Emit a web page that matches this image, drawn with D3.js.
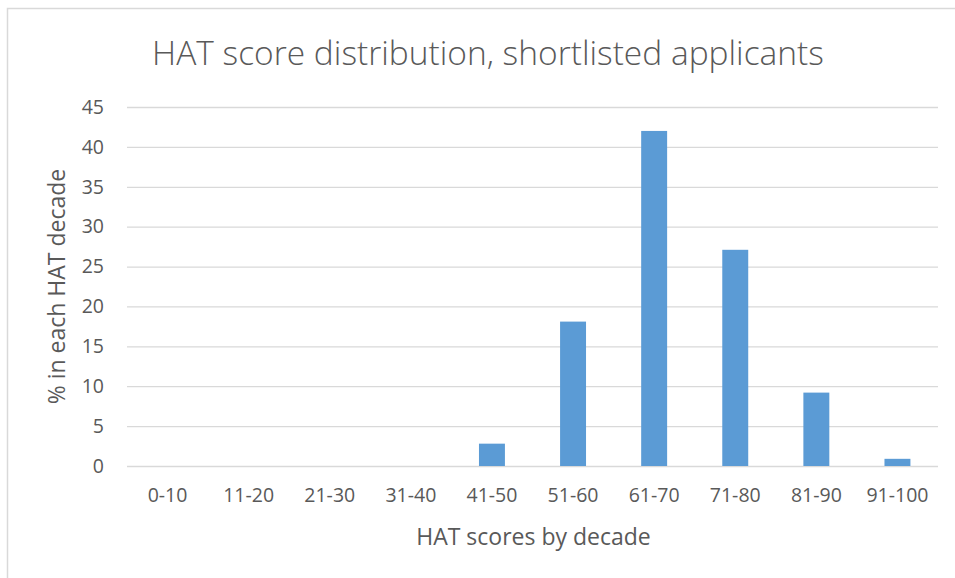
<!DOCTYPE html>
<html>
<head>
<meta charset="utf-8">
<script src="https://cdn.jsdelivr.net/npm/d3@7"></script>
<style>
  body { margin: 0; background: #fff; }
  text { font-family: "Open Sans", "Noto Sans", sans-serif; fill: #595959; }
</style>
</head>
<body>
<svg id="chart"></svg>
<script>
// data
const decades = ["0-10", "11-20", "21-30", "31-40", "41-50", "51-60", "61-70", "71-80", "81-90", "91-100"];
const percents = [0, 0, 0, 0, 2.8, 18.1, 42, 27.1, 9.2, 0.9];
const yTicks = [0, 5, 10, 15, 20, 25, 30, 35, 40, 45];

const width = 955, height = 578;
const margin = {top: 107, right: 17, bottom: 112, left: 127};
const plotW = width - margin.left - margin.right;
const plotH = height - margin.top - margin.bottom;

let svg = d3.select("#chart")
  .attr("width", width)
  .attr("height", height);

// chart area border (only top and left are visible in the crop)
svg.append("rect")
  .attr("x", 7.5).attr("y", 8.5)
  .attr("width", width + 10).attr("height", height + 10)
  .attr("fill", "none")
  .attr("stroke", "#d9d9d9")
  .attr("stroke-width", 1.5);

let scaleX = d3.scaleBand().domain(decades).range([0, plotW]).paddingInner(0.68).paddingOuter(0.34);
let scaleY = d3.scaleLinear().domain([0, 45]).range([plotH, 0]);

let g = svg.append("g")
  .attr("transform", "translate(" + margin.left + "," + margin.top + ")");

// gridlines + y labels
let yAxis = g.append("g")
  .call(d3.axisLeft(scaleY).tickValues(yTicks).tickSize(-plotW).tickPadding(23));
yAxis.select(".domain").remove();
yAxis.selectAll(".tick line").attr("stroke", "#d9d9d9").attr("stroke-width", 1.3);
yAxis.selectAll(".tick text").attr("font-size", 19.5).attr("fill", "#595959")
  .style("font-family", "'Open Sans', sans-serif");

// bars
g.selectAll("rect.bar")
  .data(decades)
  .enter()
  .append("rect")
  .attr("class", "bar")
  .attr("x", (d, i) => scaleX(d))
  .attr("y", (d, i) => scaleY(percents[i]))
  .attr("width", scaleX.bandwidth())
  .attr("height", (d, i) => plotH - scaleY(percents[i]))
  .attr("fill", "#5b9bd5");

// x labels
let xAxis = g.append("g")
  .attr("transform", "translate(0," + plotH + ")")
  .call(d3.axisBottom(scaleX).tickSize(0).tickPadding(22));
xAxis.select(".domain").remove();
xAxis.selectAll(".tick text").attr("font-size", 19.5).attr("fill", "#595959")
  .style("font-family", "'Open Sans', sans-serif");

// title
svg.append("text")
  .attr("x", 488).attr("y", 65)
  .attr("text-anchor", "middle")
  .attr("font-size", 33.5)
  .style("font-weight", 300)
  .text("HAT score distribution, shortlisted applicants");

// axis titles
svg.append("text")
  .attr("transform", "translate(65," + (margin.top + plotH / 2) + ") rotate(-90)")
  .attr("text-anchor", "middle")
  .attr("font-size", 23)
  .text("% in each HAT decade");

svg.append("text")
  .attr("x", margin.left + plotW / 2 + 1).attr("y", 545)
  .attr("text-anchor", "middle")
  .attr("font-size", 23)
  .text("HAT scores by decade");
</script>
</body>
</html>
